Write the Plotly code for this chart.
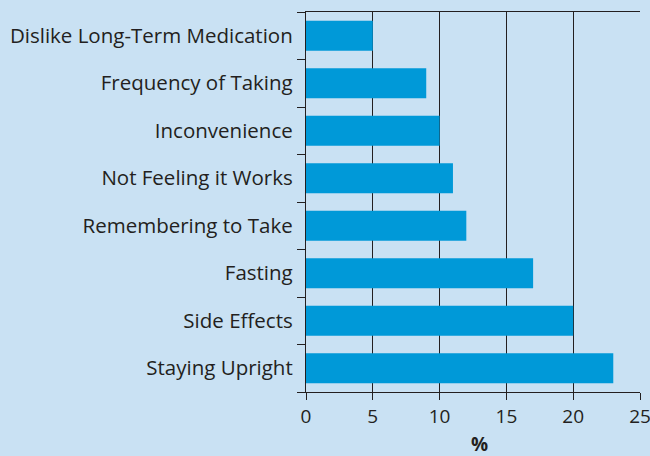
import plotly.graph_objects as go

# Reasons, listed top to bottom as in the chart.
reasons = [
    "Dislike Long-Term Medication",
    "Frequency of Taking",
    "Inconvenience",
    "Not Feeling it Works",
    "Remembering to Take",
    "Fasting",
    "Side Effects",
    "Staying Upright",
]
percent = [5, 9, 10, 11, 12, 17, 20, 23]
x_ticks = [0, 5, 10, 15, 20, 25]

BG = "#c9e1f3"
BAR = "#0099d8"
INK = "#231f20"

fig = go.Figure(go.Bar(
    x=percent,
    y=reasons,
    orientation="h",
    width=0.63,
    marker=dict(color=BAR, line=dict(width=0)),
))

fig.update_layout(
    width=650,
    height=456,
    paper_bgcolor=BG,
    plot_bgcolor=BG,
    margin=dict(l=306, r=10, t=12, b=64),
    font=dict(family="Open Sans", size=20.5, color=INK),
    showlegend=False,
)
fig.update_xaxes(
    range=[0, 25],
    tickvals=x_ticks,
    showgrid=True,
    gridcolor=INK,
    gridwidth=1.3,
    zeroline=False,
    showline=True,
    linecolor=INK,
    linewidth=1.3,
    mirror=True,
    ticks="outside",
    ticklen=7,
    tickcolor=INK,
    tickwidth=1.3,
    tickfont=dict(size=19),
    ticklabeloverflow="allow",
    automargin=False,
)
fig.update_yaxes(
    categoryorder="array",
    categoryarray=reasons[::-1],
    range=[-0.5, 7.5],
    showline=True,
    linecolor=INK,
    linewidth=1.3,
    ticks="outside",
    tickson="boundaries",
    ticklen=8,
    tickcolor=INK,
    tickwidth=1.3,
    ticklabelstandoff=8,
    automargin=False,
    showgrid=False,
)

# axis title sits a little right of centre and low, so place it by hand
fig.add_annotation(
    text="<b>%</b>",
    xref="paper", yref="paper",
    x=0.52, y=-0.098,
    xanchor="center", yanchor="top",
    showarrow=False,
    font=dict(size=19),
)

# drop the page's default body margin so the figure fills the window
fig.write_html(
    "out.html",
    config={"displayModeBar": False},
    post_script="document.body.style.margin='0';",
)
